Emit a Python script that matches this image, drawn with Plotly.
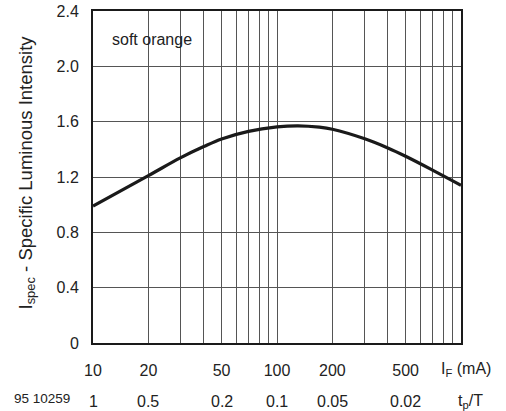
import math
import plotly.graph_objects as go

# Data
current_ma = [10, 20, 30, 40, 50, 70, 100, 130, 170, 200, 300, 400, 500, 700, 1000]
intensity = [0.99, 1.21, 1.34, 1.42, 1.475, 1.53, 1.562, 1.57, 1.56, 1.545, 1.476, 1.41, 1.35, 1.25, 1.14]

x_major = [10, 20, 50, 100, 200, 500]
x_major_text = ["10", "20", "50", "100", "200", "500"]
x_minor = [30, 40, 60, 70, 80, 90, 300, 400, 600, 700, 800, 900, 1000]
duty_labels = ["1", "0.5", "0.2", "0.1", "0.05", "0.02"]
y_ticks = [0, 0.4, 0.8, 1.2, 1.6, 2.0, 2.4]
y_labels = ["0", "0.4", "0.8", "1.2", "1.6", "2.0", "2.4"]

FONT = "Liberation Sans, Arial, sans-serif"
TXT = "#222222"
GRID = "#555555"

fig = go.Figure()
fig.add_trace(go.Scatter(
    x=current_ma, y=intensity, mode="lines",
    line=dict(color="#1a1a1a", width=3.2, shape="spline", smoothing=1.0),
    hoverinfo="skip", showlegend=False,
))

fig.update_layout(
    width=506, height=411,
    margin=dict(l=93, r=45, t=11, b=68),
    paper_bgcolor="white", plot_bgcolor="white",
    font=dict(family=FONT, size=16, color=TXT),
    xaxis=dict(
        type="log", range=[1, 3], automargin=False,
        tickvals=x_major, ticktext=x_major_text,
        showgrid=True, gridcolor=GRID, gridwidth=1,
        minor=dict(tickvals=x_minor, showgrid=True, gridcolor=GRID, gridwidth=1, ticks=""),
        showline=True, linecolor="#1a1a1a", linewidth=2, mirror=True,
        ticks="", ticklabelstandoff=12, zeroline=False,
        tickfont=dict(size=16, color=TXT),
    ),
    yaxis=dict(
        range=[0, 2.4], tickvals=y_ticks, ticktext=y_labels, automargin=False,
        showgrid=True, gridcolor=GRID, gridwidth=1,
        showline=True, linecolor="#1a1a1a", linewidth=2, mirror=True,
        ticks="", ticklabelstandoff=9, zeroline=False,
        tickfont=dict(size=16, color=TXT),
    ),
)

# y-axis title
fig.add_annotation(text="I<sub>spec</sub> - Specific Luminous Intensity",
                   xref="paper", yref="paper", x=(26 - 93) / 368, y=(343 - 172.5) / 332,
                   xanchor="center", yanchor="middle", textangle=-90, showarrow=False,
                   font=dict(size=18.5, color=TXT))

# white label box covering the grid in the upper-left
fig.add_shape(type="rect", xref="paper", yref="paper",
              x0=0.004, x1=0.329, y0=(343 - 60) / 332, y1=(343 - 20) / 332,
              fillcolor="white", line=dict(width=0), layer="between")
fig.add_annotation(text="soft orange", xref="paper", yref="paper",
                   x=(110 - 93) / 368, y=(343 - 40) / 332, xanchor="left", yanchor="middle",
                   showarrow=False, font=dict(size=16, color=TXT))

row2_y = (343 - 401) / 332
for xv, lab in zip(x_major, duty_labels):
    fig.add_annotation(text=lab, x=math.log10(xv), xref="x",
                       y=row2_y, yref="paper", showarrow=False,
                       xanchor="center", yanchor="middle", font=dict(size=16, color=TXT))

fig.add_annotation(text="I<sub>F</sub> (mA)", xref="paper", yref="paper",
                   x=(466 - 93) / 368, y=(343 - 370) / 332, xanchor="center", yanchor="middle",
                   showarrow=False, font=dict(size=16, color=TXT))
fig.add_annotation(text="t<sub>p</sub>/T", xref="paper", yref="paper",
                   x=(470 - 93) / 368, y=row2_y, xanchor="center", yanchor="middle",
                   showarrow=False, font=dict(size=16, color=TXT))
fig.add_annotation(text="95 10259", xref="paper", yref="paper",
                   x=(42 - 93) / 368, y=(343 - 399) / 332, xanchor="center", yanchor="middle",
                   showarrow=False, font=dict(size=13.5, color=TXT))

fig.write_html("out.html", config={"displayModeBar": False},
               post_script="document.body.style.margin='0';document.body.style.overflow='hidden';")
